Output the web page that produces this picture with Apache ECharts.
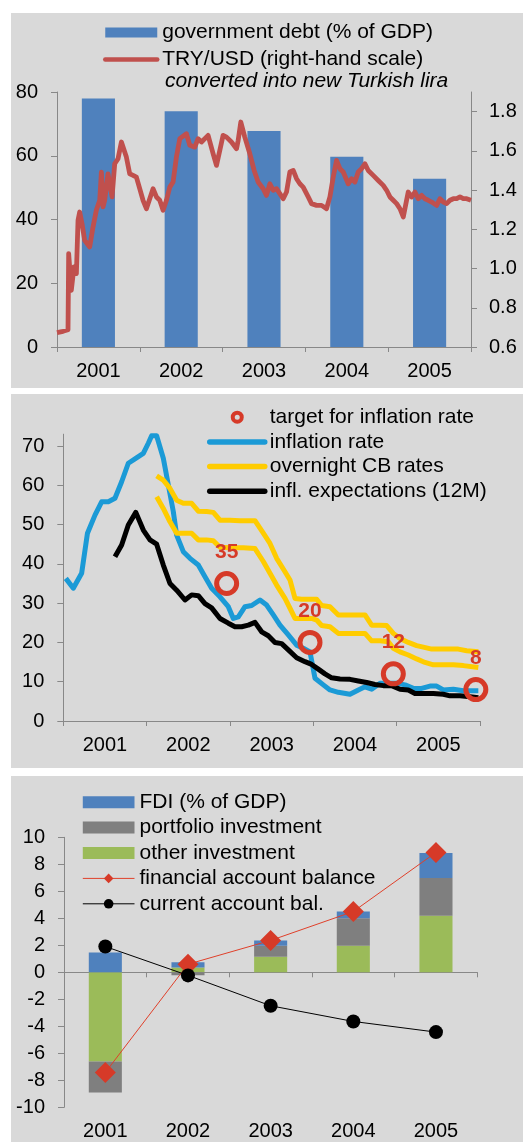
<!DOCTYPE html>
<html><head><meta charset="utf-8">
<script src="https://cdn.jsdelivr.net/npm/echarts@6/dist/echarts.min.js"></script>
<style>html,body{margin:0;padding:0;background:#fff;}#c{width:523px;height:1142px;}</style>
</head><body><div id="c"></div>
<script>
// ---------- data ----------
const years = ['2001', '2002', '2003', '2004', '2005'];

// panel 1
const govDebt = [78, 74, 67.8, 59.7, 52.8];
const tryUsd = [[2001.000,0.673],[2001.073,0.680],[2001.133,0.688],[2001.141,1.076],[2001.173,0.889],[2001.205,1.008],[2001.234,0.974],[2001.254,1.246],[2001.274,1.288],[2001.302,1.229],[2001.334,1.144],[2001.395,1.110],[2001.435,1.212],[2001.475,1.297],[2001.516,1.348],[2001.536,1.492],[2001.556,1.314],[2001.576,1.348],[2001.616,1.483],[2001.665,1.365],[2001.697,1.534],[2001.737,1.560],[2001.778,1.645],[2001.798,1.636],[2001.838,1.568],[2001.878,1.483],[2001.919,1.475],[2001.959,1.466],[2001.999,1.407],[2002.039,1.348],[2002.080,1.305],[2002.120,1.356],[2002.160,1.407],[2002.201,1.365],[2002.241,1.348],[2002.281,1.297],[2002.322,1.348],[2002.362,1.415],[2002.402,1.441],[2002.442,1.568],[2002.483,1.662],[2002.563,1.687],[2002.604,1.628],[2002.664,1.619],[2002.704,1.662],[2002.745,1.645],[2002.825,1.679],[2002.886,1.585],[2002.926,1.526],[2002.966,1.602],[2003.006,1.679],[2003.047,1.670],[2003.107,1.645],[2003.168,1.611],[2003.188,1.653],[2003.220,1.747],[2003.268,1.670],[2003.329,1.585],[2003.381,1.500],[2003.429,1.441],[2003.490,1.407],[2003.530,1.373],[2003.571,1.432],[2003.611,1.399],[2003.651,1.407],[2003.691,1.382],[2003.732,1.356],[2003.772,1.390],[2003.812,1.492],[2003.853,1.500],[2003.893,1.458],[2003.933,1.432],[2003.973,1.415],[2004.034,1.365],[2004.074,1.331],[2004.135,1.322],[2004.195,1.322],[2004.255,1.305],[2004.296,1.365],[2004.336,1.466],[2004.376,1.551],[2004.417,1.509],[2004.457,1.492],[2004.517,1.432],[2004.558,1.458],[2004.598,1.441],[2004.638,1.492],[2004.678,1.509],[2004.719,1.534],[2004.759,1.500],[2004.819,1.475],[2004.880,1.449],[2004.940,1.424],[2004.981,1.399],[2005.021,1.365],[2005.061,1.348],[2005.102,1.331],[2005.142,1.305],[2005.182,1.263],[2005.222,1.348],[2005.242,1.390],[2005.283,1.365],[2005.323,1.390],[2005.363,1.356],[2005.404,1.373],[2005.444,1.356],[2005.484,1.348],[2005.525,1.339],[2005.585,1.322],[2005.625,1.356],[2005.666,1.339],[2005.706,1.331],[2005.746,1.348],[2005.786,1.356],[2005.827,1.356],[2005.867,1.365],[2005.907,1.356],[2005.948,1.356],[2006.000,1.348]];
const debtTicks = [0, 20, 40, 60, 80];
const fxTicks = [0.6, 0.8, 1.0, 1.2, 1.4, 1.6, 1.8];

// panel 2
const inflationRate = [[2001.03,36.3],[2001.12,33.8],[2001.22,37.6],[2001.29,47.8],[2001.38,52.4],[2001.46,55.8],[2001.54,55.8],[2001.62,56.7],[2001.70,60.9],[2001.78,65.6],[2001.86,66.7],[2001.96,68.1],[2002.02,70.7],[2002.06,72.6],[2002.12,72.6],[2002.20,66.9],[2002.26,60.1],[2002.32,53.3],[2002.36,47.3],[2002.44,43.1],[2002.52,41.4],[2002.62,39.7],[2002.70,36.7],[2002.78,33.8],[2002.88,31.6],[2002.98,29.1],[2003.04,26.1],[2003.10,26.5],[2003.18,29.1],[2003.26,29.4],[2003.36,30.8],[2003.44,29.5],[2003.52,27.0],[2003.60,24.4],[2003.70,21.9],[2003.80,19.3],[2003.88,18.5],[2003.96,17.6],[2004.02,10.9],[2004.12,9.2],[2004.20,7.9],[2004.30,7.3],[2004.44,6.8],[2004.54,7.9],[2004.62,8.7],[2004.70,8.1],[2004.80,9.6],[2004.90,9.6],[2005.00,9.6],[2005.10,9.2],[2005.20,8.3],[2005.30,8.3],[2005.40,8.9],[2005.48,8.9],[2005.56,7.9],[2005.68,8.1],[2005.80,7.7],[2005.90,7.7],[2005.98,7.7]];
const overnightUpper = [[2002.12,62.4],[2002.20,61.3],[2002.28,59.2],[2002.36,56.2],[2002.44,55.4],[2002.54,55.4],[2002.62,53.4],[2002.72,53.3],[2002.80,53.1],[2002.88,51.1],[2003.00,51.1],[2003.12,51.0],[2003.30,51.0],[2003.40,47.8],[2003.48,45.2],[2003.56,41.4],[2003.66,38.0],[2003.72,35.9],[2003.78,31.2],[2003.86,31.0],[2003.96,31.0],[2004.04,31.0],[2004.10,29.4],[2004.20,29.1],[2004.30,27.0],[2004.44,27.0],[2004.62,27.0],[2004.70,24.4],[2004.80,24.4],[2004.88,24.3],[2004.96,22.3],[2005.04,21.0],[2005.14,20.0],[2005.24,19.2],[2005.32,18.8],[2005.42,18.3],[2005.52,18.3],[2005.64,18.3],[2005.74,18.3],[2005.84,17.9],[2005.98,17.6]];
const overnightLower = [[2002.12,57.1],[2002.20,54.1],[2002.28,50.7],[2002.36,47.8],[2002.44,47.8],[2002.54,47.8],[2002.62,46.1],[2002.72,46.1],[2002.80,45.9],[2002.88,44.2],[2003.00,44.1],[2003.16,44.1],[2003.30,43.9],[2003.40,40.6],[2003.48,37.6],[2003.56,34.6],[2003.66,31.2],[2003.72,28.7],[2003.78,26.1],[2003.88,26.1],[2003.98,26.1],[2004.04,25.7],[2004.10,24.3],[2004.20,24.0],[2004.30,22.3],[2004.44,22.3],[2004.62,22.3],[2004.70,20.4],[2004.80,20.4],[2004.90,20.2],[2004.96,18.5],[2005.04,17.6],[2005.14,16.8],[2005.24,15.8],[2005.34,14.9],[2005.44,14.3],[2005.56,14.3],[2005.68,14.3],[2005.80,14.1],[2005.98,13.6]];
const inflExpectations = [[2001.62,41.8],[2001.70,44.8],[2001.78,49.9],[2001.87,53.1],[2001.96,48.6],[2002.04,46.1],[2002.12,45.0],[2002.20,39.7],[2002.28,35.0],[2002.36,33.3],[2002.46,30.8],[2002.54,32.1],[2002.62,31.9],[2002.70,29.9],[2002.78,28.8],[2002.88,26.1],[2002.98,24.9],[2003.06,24.0],[2003.14,24.0],[2003.22,24.4],[2003.30,25.1],[2003.38,22.7],[2003.46,21.7],[2003.54,20.0],[2003.62,19.7],[2003.70,18.1],[2003.80,16.1],[2003.90,15.1],[2003.98,14.4],[2004.06,13.2],[2004.14,12.0],[2004.22,11.0],[2004.32,10.7],[2004.44,10.6],[2004.54,10.2],[2004.64,9.8],[2004.74,9.3],[2004.84,9.0],[2004.94,9.0],[2005.04,8.1],[2005.14,7.9],[2005.22,7.0],[2005.32,7.0],[2005.44,7.0],[2005.56,6.8],[2005.64,6.4],[2005.76,6.4],[2005.88,6.2],[2005.98,5.9]];
const inflTargets = [[2002.96,35],[2003.96,20],[2004.96,12],[2005.95,8]];
const inflTicks = [0, 10, 20, 30, 40, 50, 60, 70];

// panel 3
const fdi = [1.47, 0.4, 0.4, 0.5, 1.85];
const portfolioInv = [-2.3, -0.22, 0.81, 2.05, 2.79];
const otherInv = [-6.6, 0.35, 1.15, 1.96, 4.19];
const financialBal = [-7.42, 0.6, 2.36, 4.5, 8.88];
const currentBal = [1.91, -0.23, -2.48, -3.64, -4.43];

// ---------- style ----------
const FONT = '"Liberation Sans", Arial, sans-serif';
const AXIS_COLOR = '#888888';
const TXT = {color: '#000', fontSize: 20, fontFamily: FONT};
const LEG_TXT = {color: '#000', fontSize: 21, fontFamily: FONT, lineHeight: 20};
const RED = '#D63A28';
const NO_SYMBOL = {opacity: 0};

function catAxis(grid, showLabel, extra) {
  return Object.assign({
    type: 'category', gridIndex: grid, data: years, position: 'bottom',
    axisLine: {show: true, lineStyle: {color: AXIS_COLOR, width: 1}},
    axisTick: {show: true, length: 5, lineStyle: {color: AXIS_COLOR}},
    axisLabel: Object.assign({show: showLabel, margin: 14}, TXT),
    splitLine: {show: false}
  }, extra || {});
}
function hiddenTimeAxis(grid) {
  return {type: 'value', gridIndex: grid, min: 2001, max: 2006, show: false, splitLine: {show: false}};
}
function valAxis(grid, min, max, interval, ticks, pos, margin, fmt) {
  return {
    type: 'value', gridIndex: grid, min: min, max: max, interval: interval, position: pos,
    axisLine: {show: true, onZero: false, lineStyle: {color: AXIS_COLOR, width: 1}},
    axisTick: {show: true, length: 6, customValues: ticks, lineStyle: {color: AXIS_COLOR}},
    axisLabel: Object.assign({margin: margin, customValues: ticks, formatter: fmt}, TXT),
    splitLine: {show: false}
  };
}

const chart = echarts.init(document.getElementById('c'), null, {renderer: 'canvas'});

const option = {
  animation: false,
  backgroundColor: '#ffffff',
  textStyle: {fontFamily: FONT},
  graphic: [
    {type: 'rect', z: -10, shape: {x: 11, y: 13, width: 512, height: 375}, style: {fill: '#D9D9D9'}},
    {type: 'rect', z: -10, shape: {x: 11, y: 394, width: 512, height: 374}, style: {fill: '#D9D9D9'}},
    {type: 'rect', z: -10, shape: {x: 11, y: 776, width: 512, height: 366}, style: {fill: '#D9D9D9'}},
    {type: 'text', z: 10, x: 165, y: 81,
      style: {text: 'converted into new Turkish lira', fontSize: 21, fontStyle: 'italic', fontFamily: FONT, fill: '#000', verticalAlign: 'middle'}}
  ],
  grid: [
    {left: 57, top: 92, width: 414, height: 255},
    {left: 63.3, top: 434.2, width: 416.7, height: 286.8},
    {left: 64, top: 837.3, width: 413.3, height: 270}
  ],
  xAxis: [
    catAxis(0, true),
    hiddenTimeAxis(0),
    catAxis(1, true),
    hiddenTimeAxis(1),
    catAxis(2, true, {axisLine: {show: false, onZero: false}, axisTick: {show: false}}),
    catAxis(2, false, {axisLine: {show: true, onZero: true, lineStyle: {color: AXIS_COLOR, width: 1}}})
  ],
  yAxis: [
    valAxis(0, 0, 80, 20, debtTicks, 'left', 19),
    valAxis(0, 0.6, 1.9, 0.2, fxTicks, 'right', 18, v => v.toFixed(1)),
    valAxis(1, 0, 73, 10, inflTicks, 'left', 19),
    valAxis(2, -10, 10, 2, null, 'left', 19)
  ],
  legend: [
    {
      orient: 'vertical', left: 103, top: 22, padding: 0, itemWidth: 52, itemHeight: 10, itemGap: 6, itemTextGap: 5,
      textStyle: LEG_TXT, lineStyle: {width: 4.5, cap: 'round'}, selectedMode: false,
      data: [{name: 'government debt (% of GDP)', icon: 'rect'},
             {name: 'TRY/USD (right-hand scale)', itemStyle: NO_SYMBOL}]
    },
    {
      orient: 'vertical', left: 207, top: 406.7, padding: 0, itemWidth: 55, itemHeight: 9, itemGap: 3.7,
      textStyle: LEG_TXT, lineStyle: {width: 5.5, cap: 'round'}, selectedMode: false,
      data: [
        {name: 'target for inflation rate', itemStyle: {borderWidth: 4}},
        {name: 'inflation rate', itemStyle: NO_SYMBOL},
        {name: 'overnight CB rates', itemStyle: NO_SYMBOL},
        {name: 'infl. expectations (12M)', itemStyle: NO_SYMBOL}
      ]
    },
    {
      orient: 'vertical', left: 82.3, top: 791.7, padding: 0, itemWidth: 51.7, itemHeight: 12, itemGap: 4.4,
      textStyle: LEG_TXT, lineStyle: {width: 1}, selectedMode: false,
      data: [
        {name: 'FDI (% of GDP)', icon: 'rect'}, {name: 'portfolio investment', icon: 'rect'},
        {name: 'other investment', icon: 'rect'},
        {name: 'financial account balance'}, {name: 'current account bal.'}
      ]
    }
  ],
  series: [
    // panel 1
    {name: 'government debt (% of GDP)', type: 'bar', xAxisIndex: 0, yAxisIndex: 0, data: govDebt,
      barCategoryGap: '60%', itemStyle: {color: '#4F81BD'}},
    {name: 'TRY/USD (right-hand scale)', type: 'line', xAxisIndex: 1, yAxisIndex: 1, data: tryUsd,
      symbol: 'none', lineStyle: {color: '#C0504D', width: 4.8, join: 'round'}, itemStyle: {color: '#C0504D'}},
    // panel 2
    {name: 'inflation rate', type: 'line', xAxisIndex: 3, yAxisIndex: 2, data: inflationRate,
      symbol: 'none', lineStyle: {color: '#1B9AD6', width: 5, join: 'round'}, itemStyle: {color: '#1B9AD6'}},
    {name: 'overnight CB rates', type: 'line', xAxisIndex: 3, yAxisIndex: 2, data: overnightUpper,
      symbol: 'none', lineStyle: {color: '#FFCC00', width: 5, join: 'round'}, itemStyle: {color: '#FFCC00'}},
    {name: 'overnight CB rates', type: 'line', xAxisIndex: 3, yAxisIndex: 2, data: overnightLower,
      symbol: 'none', lineStyle: {color: '#FFCC00', width: 5, join: 'round'}, itemStyle: {color: '#FFCC00'}},
    {name: 'infl. expectations (12M)', type: 'line', xAxisIndex: 3, yAxisIndex: 2, data: inflExpectations,
      symbol: 'none', lineStyle: {color: '#000000', width: 5, join: 'round'}, itemStyle: {color: '#000000'}},
    {name: 'target for inflation rate', type: 'scatter', xAxisIndex: 3, yAxisIndex: 2, data: inflTargets,
      z: 10, symbol: 'circle', symbolSize: 20,
      itemStyle: {color: 'transparent', borderColor: RED, borderWidth: 5, opacity: 1},
      label: {show: true, position: 'top', distance: 8.5, formatter: p => String(p.value[1]),
        color: RED, fontWeight: 'bold', fontSize: 21, fontFamily: FONT}},
    // panel 3
    {name: 'other investment', type: 'bar', stack: 'inv', xAxisIndex: 4, yAxisIndex: 3, data: otherInv,
      barCategoryGap: '60%', itemStyle: {color: '#9BBB59'}},
    {name: 'portfolio investment', type: 'bar', stack: 'inv', xAxisIndex: 4, yAxisIndex: 3, data: portfolioInv,
      itemStyle: {color: '#7F7F7F'}},
    {name: 'FDI (% of GDP)', type: 'bar', stack: 'inv', xAxisIndex: 4, yAxisIndex: 3, data: fdi,
      itemStyle: {color: '#4F81BD'}},
    {name: 'financial account balance', type: 'line', xAxisIndex: 4, yAxisIndex: 3, data: financialBal,
      symbol: 'diamond', symbolSize: 21, lineStyle: {color: '#E0402A', width: 1}, itemStyle: {color: RED}},
    {name: 'current account bal.', type: 'line', xAxisIndex: 4, yAxisIndex: 3, data: currentBal,
      symbol: 'circle', symbolSize: 14, lineStyle: {color: '#000', width: 1}, itemStyle: {color: '#000'}}
  ]
};
chart.setOption(option);
</script>
</body></html>
